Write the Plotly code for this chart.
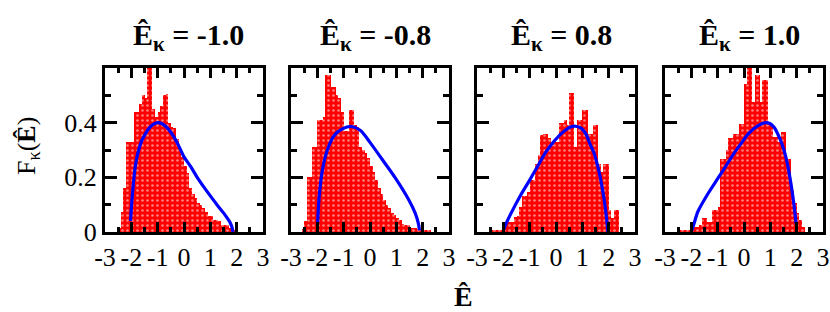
import plotly.graph_objects as go

# ---- data ----
bin_left = [-2.6, -2.5, -2.4, -2.3, -2.2, -2.1, -2.0, -1.9, -1.8, -1.7,
            -1.6, -1.5, -1.4, -1.3, -1.2, -1.1, -1.0, -0.9, -0.8, -0.7,
            -0.6, -0.5, -0.4, -0.3, -0.2, -0.1, 0.0, 0.1, 0.2, 0.3,
            0.4, 0.5, 0.6, 0.7, 0.8, 0.9, 1.0, 1.1, 1.2, 1.3,
            1.4, 1.5, 1.6, 1.7, 1.8, 1.9, 2.0, 2.1, 2.2, 2.3]
bin_width = 0.1

hist_m10 = [0, 0.016, 0.075, 0.16, 0.33, 0.33, 0.33, 0.44, 0.44, 0.47,
            0.50, 0.49, 0.65, 0.65, 0.45, 0.42, 0.44, 0.46, 0.50, 0.505,
            0.40, 0.385, 0.38, 0.34, 0.30, 0.275, 0.24, 0.215, 0.16, 0.14,
            0.125, 0.105, 0.10, 0.087, 0.075, 0.057, 0.057, 0.045, 0.045, 0.04,
            0.027, 0.027, 0.025, 0.015, 0.01, 0.005, 0, 0, 0, 0]
hist_m08 = [0.01, 0.04, 0.20, 0.20, 0.31, 0.31, 0.41, 0.41, 0.42, 0.575,
            0.575, 0.53, 0.53, 0.50, 0.49, 0.44, 0.37, 0.37, 0.445, 0.445,
            0.39, 0.385, 0.31, 0.30, 0.29, 0.27, 0.24, 0.22, 0.19, 0.16,
            0.14, 0.118, 0.10, 0.087, 0.07, 0.063, 0.05, 0.045, 0.03, 0.027,
            0.025, 0.015, 0.015, 0.015, 0.012, 0.008, 0.008, 0.005, 0.005, 0]
hist_p08 = [0, 0.004, 0.006, 0.006, 0.006, 0.006, 0.02, 0.037, 0.037, 0.037,
            0.056, 0.06, 0.09, 0.13, 0.13, 0.145, 0.19, 0.19, 0.25, 0.28,
            0.355, 0.36, 0.36, 0.343, 0.316, 0.33, 0.33, 0.40, 0.40, 0.41,
            0.39, 0.507, 0.507, 0.31, 0.41, 0.41, 0.445, 0.445, 0.36, 0.36,
            0.39, 0.39, 0.25, 0.22, 0.25, 0.25, 0.08, 0.053, 0.08, 0.08]
hist_p10 = [0, 0.006, 0.006, 0.006, 0.006, 0.006, 0.019, 0.019, 0.019, 0.025,
            0.05, 0.05, 0.037, 0.037, 0.08, 0.08, 0.093, 0.266, 0.266, 0.30,
            0.343, 0.343, 0.36, 0.36, 0.396, 0.396, 0.54, 0.65, 0.65, 0.476,
            0.573, 0.573, 0.476, 0.557, 0.557, 0.396, 0.396, 0.347, 0.347, 0.328,
            0.365, 0.365, 0.266, 0.266, 0.155, 0.105, 0.07, 0.043, 0.019, 0]

curve_m10_x = [-2.03, -1.99, -1.93, -1.85, -1.75, -1.6, -1.45, -1.3, -1.15, -1.0,
               -0.85, -0.7, -0.5, -0.25, 0.0, 0.25, 0.5, 0.75, 1.0, 1.25,
               1.5, 1.65, 1.75, 1.82, 1.86]
curve_m10_y = [0.04, 0.1, 0.17, 0.24, 0.29, 0.335, 0.362, 0.383, 0.395, 0.40,
               0.397, 0.387, 0.365, 0.325, 0.275, 0.24, 0.2, 0.165, 0.132, 0.1,
               0.07, 0.05, 0.035, 0.018, 0.0]
curve_m08_x = [-1.99, -1.93, -1.8, -1.62, -1.36, -1.05, -0.71, -0.36, 0.0, 0.46,
               0.96, 1.47, 1.72, 1.84, 1.88]
curve_m08_y = [0.03, 0.13, 0.23, 0.30, 0.353, 0.377, 0.386, 0.371, 0.328, 0.266,
               0.198, 0.118, 0.068, 0.03, 0.006]
curve_p08_x = [-2.0, -1.9, -1.7, -1.37, -1.0, -0.73, -0.4, -0.09, 0.2, 0.55,
               0.74, 0.95, 1.13, 1.3, 1.44, 1.6, 1.7, 1.83, 1.92, 1.97]
curve_p08_y = [0.006, 0.03, 0.07, 0.13, 0.19, 0.235, 0.29, 0.33, 0.36, 0.384,
               0.387, 0.38, 0.36, 0.32, 0.29, 0.235, 0.19, 0.118, 0.05, 0.0]
curve_p10_x = [-1.98, -1.9, -1.75, -1.37, -1.0, -0.73, -0.4, -0.1, 0.17, 0.55,
               0.87, 1.13, 1.3, 1.45, 1.6, 1.76, 1.89, 1.98]
curve_p10_y = [0.005, 0.03, 0.075, 0.14, 0.195, 0.235, 0.285, 0.325, 0.36, 0.39,
               0.40, 0.385, 0.355, 0.32, 0.27, 0.19, 0.105, 0.03]

panel_titles = ["-1.0", "-0.8", "0.8", "1.0"]
hists = [hist_m10, hist_m08, hist_p08, hist_p10]
curves = [(curve_m10_x, curve_m10_y), (curve_m08_x, curve_m08_y),
          (curve_p08_x, curve_p08_y), (curve_p10_x, curve_p10_y)]

x_ticks = [-3, -2, -1, 0, 1, 2, 3]
x_ticktext = ["-3", "-2", "-1", "0", "1", "2", "3"]
y_ticks = [0, 0.2, 0.4]
y_ticktext = ["0", "0.2", "0.4"]

# ---- layout geometry (pixels) ----
W, H = 830, 312
panels_px = [(105, 263), (291, 449), (477, 635), (665, 823)]
top_px, bot_px = 68, 232
FONT = "Liberation Serif, Times New Roman, Times, serif"

fig = go.Figure()
centers = [b + bin_width / 2 for b in bin_left]

for i, (hv, (cx, cy)) in enumerate(zip(hists, curves)):
    xa = "x" if i == 0 else f"x{i+1}"
    ya = "y" if i == 0 else f"y{i+1}"
    fig.add_trace(go.Bar(
        x=centers, y=hv, width=bin_width, xaxis=xa, yaxis=ya,
        marker=dict(color="#ff0000", line=dict(width=0),
                    pattern=dict(shape=".", fgcolor="white", bgcolor="#ff0000",
                                 size=5, solidity=0.22)),
        showlegend=False, hoverinfo="skip"))
    fig.add_trace(go.Scatter(
        x=cx, y=cy, mode="lines", xaxis=xa, yaxis=ya,
        line=dict(color="#0000ff", width=3.2, shape="spline", smoothing=0.8),
        showlegend=False, hoverinfo="skip"))

layout = dict(width=W, height=H, margin=dict(l=0, r=0, t=0, b=0),
              paper_bgcolor="white", plot_bgcolor="white", bargap=0,
              barmode="overlay")
ydom = [1 - bot_px / H, 1 - top_px / H]
for i, (l, r) in enumerate(panels_px):
    sx = "" if i == 0 else str(i + 1)
    layout[f"xaxis{sx}"] = dict(
        domain=[l / W, r / W], range=[-3, 3], anchor=f"y{sx}",
        tickvals=x_ticks, ticktext=x_ticktext, tickangle=0, automargin=False,
        ticks="inside", ticklen=10, tickwidth=2.8,
        tickcolor="black", showline=True, linewidth=3, linecolor="black",
        mirror="ticks", showgrid=False, zeroline=False,
        minor=dict(dtick=0.5, ticks="inside", ticklen=5, tickwidth=2.8,
                   tickcolor="black", showgrid=False),
        tickfont=dict(family=FONT, size=26, color="black"))
    layout[f"yaxis{sx}"] = dict(
        domain=ydom, range=[0, 0.6], anchor=f"x{sx}", automargin=False,
        tickvals=y_ticks, ticktext=y_ticktext, ticks="inside", ticklen=12,
        tickwidth=2.8, tickcolor="black", showline=True, linewidth=3,
        linecolor="black", mirror="ticks", showgrid=False, zeroline=False,
        showticklabels=(i == 0),
        minor=dict(dtick=0.1, ticks="inside", ticklen=6, tickwidth=2.8,
                   tickcolor="black", showgrid=False),
        tickfont=dict(family=FONT, size=26, color="black"))
fig.update_layout(**layout)

annotations = []
for i, (l, r) in enumerate(panels_px):
    annotations.append(dict(
        text=f"<b>Ê<sub>κ</sub> = {panel_titles[i]}</b>",
        x=(l + r) / 2 / W + 5 / W, y=1 - 58 / H, xref="paper", yref="paper",
        xanchor="center", yanchor="bottom", showarrow=False,
        font=dict(family=FONT, size=30, color="black")))
annotations.append(dict(
    text="F<sub>κ</sub>(<b>Ê</b>)", x=28 / W, y=1 - 146 / H,
    xref="paper", yref="paper", xanchor="center", yanchor="middle",
    textangle=-90, showarrow=False,
    font=dict(family=FONT, size=26, color="black")))
annotations.append(dict(
    text="<b>Ê</b>", x=463 / W, y=1 - 296 / H, xref="paper", yref="paper",
    xanchor="center", yanchor="middle", showarrow=False,
    font=dict(family=FONT, size=28, color="black")))
fig.update_layout(annotations=annotations)

fig.write_html("out.html", config={"displayModeBar": False},
               post_script="document.body.style.margin='0';"
                           "document.body.style.overflow='hidden';")
